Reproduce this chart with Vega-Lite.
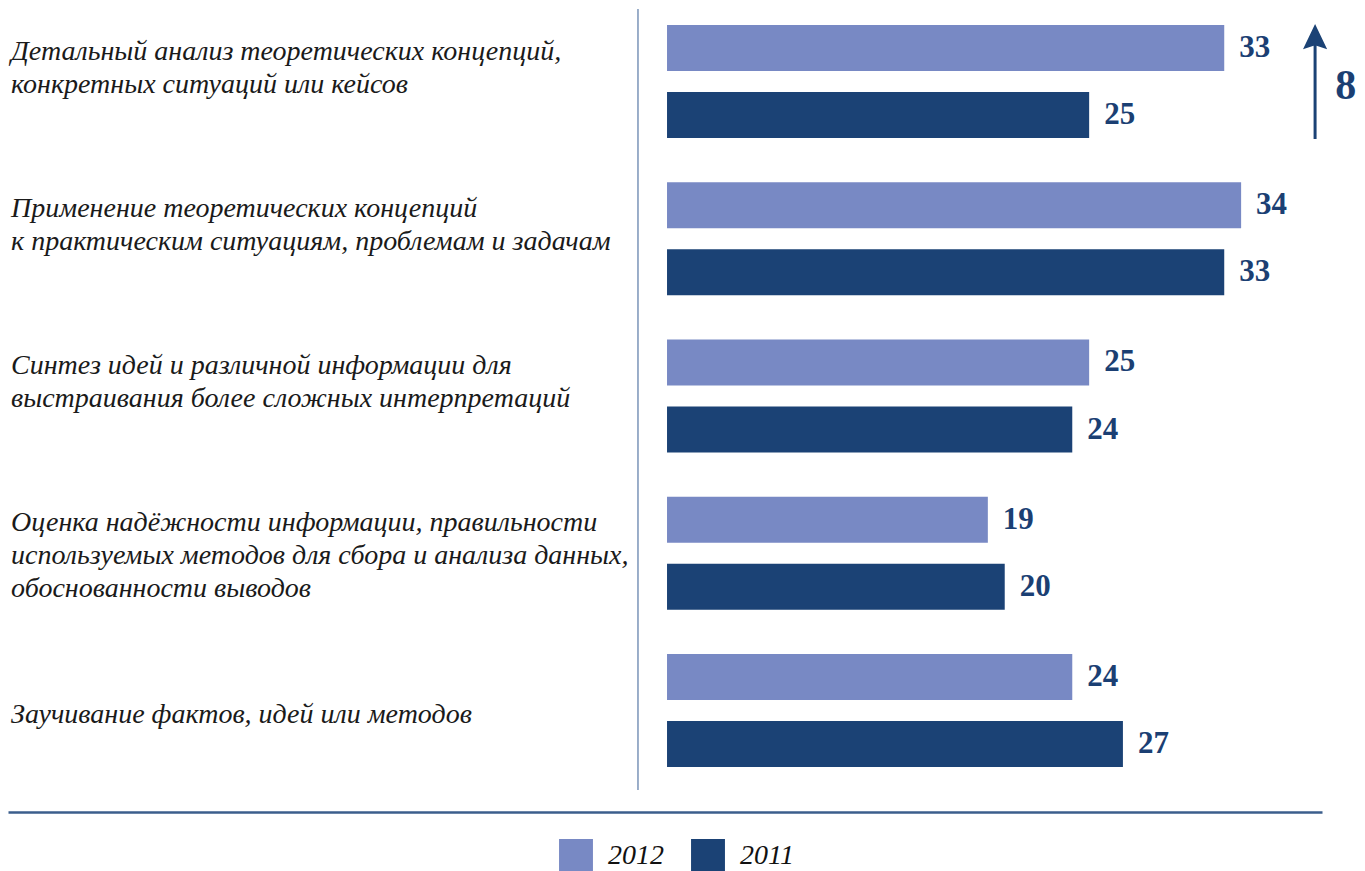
{
  "$schema": "https://vega.github.io/schema/vega-lite/v6.json",
  "width": 1314,
  "height": 781,
  "autosize": {"type": "none"},
  "padding": {"left": 8, "top": 9, "right": 43, "bottom": 81},
  "background": "white",
  "config": {
    "view": {"stroke": null},
    "axisX": {"offset": 22, "domainColor": "#3B5E8C", "domainWidth": 2.5, "ticks": false, "labels": false, "grid": false},
    "axisY": {"disable": true}
  },
  "datasets": {
    "main": [
      {"cat": "g1", "label": "Детальный анализ теоретических концепций,\nконкретных ситуаций или кейсов", "year": "2012", "value": 33},
      {"cat": "g1", "label": "Детальный анализ теоретических концепций,\nконкретных ситуаций или кейсов", "year": "2011", "value": 25},
      {"cat": "g2", "label": "Применение теоретических концепций\nк практическим ситуациям, проблемам и задачам", "year": "2012", "value": 34},
      {"cat": "g2", "label": "Применение теоретических концепций\nк практическим ситуациям, проблемам и задачам", "year": "2011", "value": 33},
      {"cat": "g3", "label": "Синтез идей и различной информации для\nвыстраивания более сложных интерпретаций", "year": "2012", "value": 25},
      {"cat": "g3", "label": "Синтез идей и различной информации для\nвыстраивания более сложных интерпретаций", "year": "2011", "value": 24},
      {"cat": "g4", "label": "Оценка надёжности информации, правильности\nиспользуемых методов для сбора и анализа данных,\nобоснованности выводов", "year": "2012", "value": 19},
      {"cat": "g4", "label": "Оценка надёжности информации, правильности\nиспользуемых методов для сбора и анализа данных,\nобоснованности выводов", "year": "2011", "value": 20},
      {"cat": "g5", "label": "Заучивание фактов, идей или методов", "year": "2012", "value": 24},
      {"cat": "g5", "label": "Заучивание фактов, идей или методов", "year": "2011", "value": 27}
    ],
    "note": [
      {"cat": "g1", "diff": 8}
    ]
  },
  "layer": [
    {
      "data": {"name": "main"},
      "mark": {"type": "bar"},
      "encoding": {
        "x": {"field": "value", "type": "quantitative", "title": null, "scale": {"domain": [-39.03, 38.79], "nice": false, "zero": false}},
        "y": {"field": "cat", "type": "nominal", "scale": {"domain": ["g1", "g2", "g3", "g4", "g5"], "range": [-6.125, 780.125], "paddingInner": 0, "paddingOuter": 0}},
        "yOffset": {"field": "year", "type": "nominal", "scale": {"domain": ["2012", "2011"], "paddingInner": 0.3134, "paddingOuter": 0.33}},
        "color": {
          "field": "year", "type": "nominal",
          "scale": {"domain": ["2012", "2011"], "range": ["#7889C4", "#1B4275"]},
          "legend": {
            "orient": "none", "direction": "horizontal", "legendX": 551, "legendY": 830,
            "title": null, "padding": 0, "symbolType": "square", "symbolSize": 1150,
            "symbolStrokeWidth": 0, "symbolOpacity": 1,
            "labelFont": "Liberation Serif, DejaVu Serif, serif", "labelFontStyle": "italic", "labelFontSize": 28,
            "labelColor": "#111111", "labelOffset": 15, "columnPadding": 27
          }
        }
      }
    },
    {
      "data": {"name": "main"},
      "mark": {"type": "text", "align": "left", "baseline": "middle", "dx": 15, "dy": 0, "font": "Liberation Serif, DejaVu Serif, serif", "fontWeight": "bold", "fontSize": 31, "color": "#1B3F73"},
      "encoding": {
        "x": {"field": "value", "type": "quantitative", "title": null},
        "y": {"field": "cat", "type": "nominal"},
        "yOffset": {"field": "year", "type": "nominal"},
        "text": {"field": "value", "type": "quantitative"}
      }
    },
    {
      "data": {"name": "main"},
      "transform": [{"filter": "datum.year === '2012' && datum.cat !== 'g5'"}],
      "mark": {"type": "text", "align": "left", "baseline": "middle", "dy": -30, "lineBreak": "\n", "lineHeight": 33, "font": "Liberation Serif, DejaVu Serif, serif", "fontStyle": "italic", "fontSize": 28, "color": "#1A1A1A"},
      "encoding": {
        "x": {"datum": -38.85, "type": "quantitative", "title": null},
        "y": {"field": "cat", "type": "nominal"},
        "text": {"field": "label", "type": "nominal"}
      }
    },
    {
      "data": {"name": "main"},
      "transform": [{"filter": "datum.year === '2012' && datum.cat === 'g5'"}],
      "mark": {"type": "text", "align": "left", "baseline": "middle", "dy": 4, "font": "Liberation Serif, DejaVu Serif, serif", "fontStyle": "italic", "fontSize": 28, "color": "#1A1A1A"},
      "encoding": {
        "x": {"datum": -38.85, "type": "quantitative", "title": null},
        "y": {"field": "cat", "type": "nominal"},
        "text": {"field": "label", "type": "nominal"}
      }
    },
    {
      "data": {"name": "note"},
      "mark": {"type": "rule", "color": "#7A94B8", "strokeWidth": 1.5},
      "encoding": {
        "x": {"datum": -1.72, "type": "quantitative", "title": null}
      }
    },
    {
      "data": {"name": "note"},
      "mark": {"type": "point", "shape": "M-0.026,1L0.026,1L0.026,-0.62L0.21,-0.56L0,-1L-0.21,-0.56L-0.026,-0.62Z", "size": 13225, "filled": true, "color": "#1B4275", "opacity": 1, "strokeWidth": 0},
      "encoding": {
        "x": {"datum": 38.38, "type": "quantitative", "title": null},
        "y": {"field": "cat", "type": "nominal"}
      }
    },
    {
      "data": {"name": "note"},
      "mark": {"type": "text", "align": "center", "baseline": "middle", "dy": 4, "font": "Liberation Serif, DejaVu Serif, serif", "fontWeight": "bold", "fontSize": 42, "color": "#1B3F73"},
      "encoding": {
        "x": {"datum": 40.2, "type": "quantitative", "title": null},
        "y": {"field": "cat", "type": "nominal"},
        "text": {"field": "diff", "type": "quantitative"}
      }
    }
  ]
}
